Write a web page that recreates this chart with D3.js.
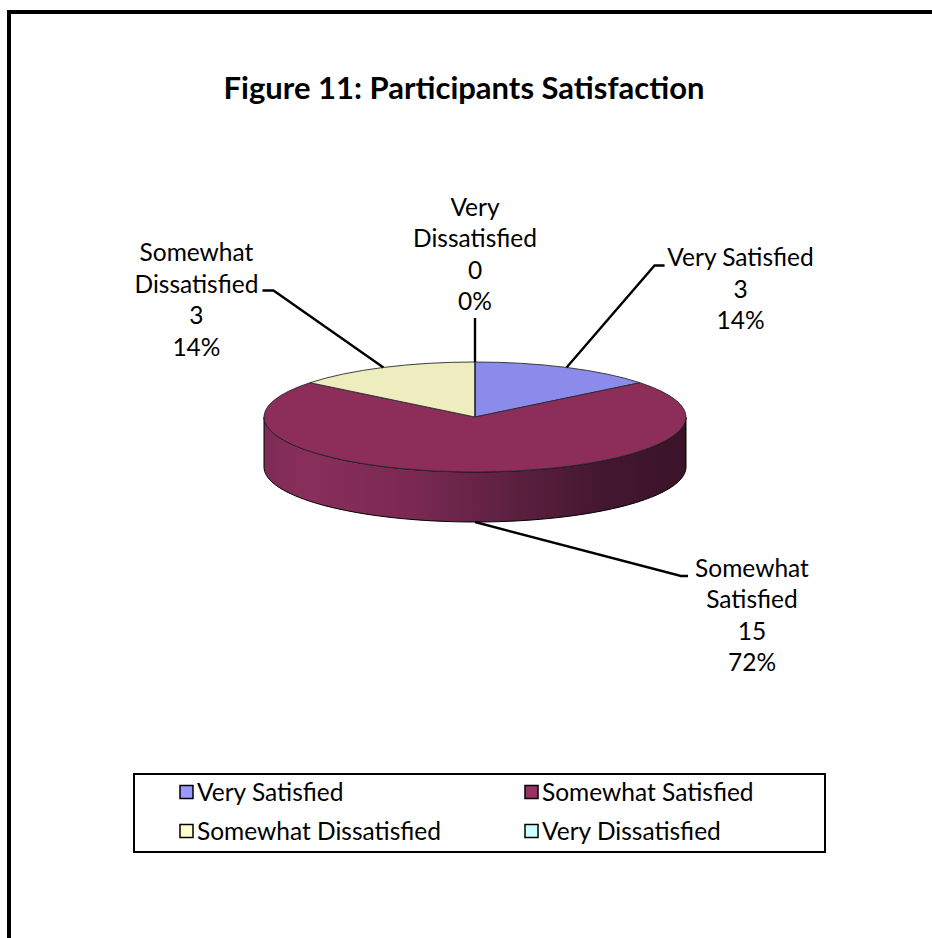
<!DOCTYPE html>
<html>
<head>
<meta charset="utf-8">
<script src="https://cdn.jsdelivr.net/npm/d3@7"></script>
<style>
  body { margin: 0; background: #fff; }
  text { font-family: Lato, "Open Sans", sans-serif; fill: #000; }
</style>
</head>
<body>
<svg id="chart" width="932" height="938"></svg>
<script>
// data
const categories = ["Very Satisfied", "Somewhat Satisfied", "Somewhat Dissatisfied", "Very Dissatisfied"];
const counts = [3, 15, 3, 0];
const percentLabels = ["14%", "72%", "14%", "0%"];
const labelNameLines = [["Very Satisfied"], ["Somewhat", "Satisfied"], ["Somewhat", "Dissatisfied"], ["Very", "Dissatisfied"]];
const topColors = ["#8B8BEB", "#8C2D5A", "#EDEDBF", "#CCFFFF"];
const legendColors = ["#9999FF", "#993366", "#FFFFCC", "#CCFFFF"];

const width = 932, height = 938;
const cx = 475, cy = 417, rx = 211, ry = 55, depth = 50;
const lineH = 31.4;

// leader/label placement relative to the slice anchor
const labelLayout = [
  { elbow: [88, -102], hLen: 10, tx: 174, ty: -101 },
  { elbow: [206, 54], hLen: 7, tx: 277, ty: 55 },
  { elbow: [-110, -77], hLen: -11, tx: -187, ty: -106 },
  { elbow: [0, -44], hLen: 0, tx: 0, ty: -146 }
];

const svg = d3.select("#chart");

// outer frame (runs off right and bottom edges)
svg.append("rect")
  .attr("x", 9).attr("y", 12)
  .attr("width", 1000).attr("height", 1000)
  .attr("fill", "none").attr("stroke", "#000").attr("stroke-width", 4);

svg.append("text")
  .attr("x", 464).attr("y", 99)
  .attr("text-anchor", "middle")
  .style("font-size", "31px").style("font-weight", "bold")
  .text("Figure 11: Participants Satisfaction");

const defs = svg.append("defs");
const grad = defs.append("linearGradient")
  .attr("id", "sideGrad")
  .attr("gradientUnits", "userSpaceOnUse")
  .attr("x1", cx - rx).attr("x2", cx + rx).attr("y1", 0).attr("y2", 0);
[[0, "#7E2B55"], [0.1, "#892E5B"], [0.35, "#7A2952"], [0.6, "#5B203F"], [0.8, "#441731"], [1, "#3A1329"]]
  .forEach(([o, c]) => grad.append("stop").attr("offset", o).attr("stop-color", c));

const pie = d3.pie().sort(null).value(d => d);
const arcs = pie(counts);

const ep = (a, dy = 0) => [cx + rx * Math.sin(a), cy - ry * Math.cos(a) + dy];

// side wall, only the front half shows
const sideG = svg.append("g");
arcs.forEach((d, i) => {
  const a0 = Math.max(d.startAngle, Math.PI / 2);
  const a1 = Math.min(d.endAngle, Math.PI * 3 / 2);
  if (a1 <= a0) return;
  const n = 80;
  const p = d3.path();
  const s = ep(a0);
  p.moveTo(s[0], s[1]);
  for (let k = 1; k <= n; k++) {
    const q = ep(a0 + (a1 - a0) * k / n);
    p.lineTo(q[0], q[1]);
  }
  for (let k = n; k >= 0; k--) {
    const q = ep(a0 + (a1 - a0) * k / n, depth);
    p.lineTo(q[0], q[1]);
  }
  p.closePath();
  sideG.append("path")
    .attr("d", p.toString())
    .attr("fill", i === 1 ? "url(#sideGrad)" : d3.color(topColors[i]).darker(1))
    .attr("stroke", "#000").attr("stroke-width", 1);
});

// top face: circle arcs squashed into an ellipse
const arc = d3.arc().innerRadius(0).outerRadius(rx);
svg.append("g")
  .attr("transform", `translate(${cx},${cy}) scale(1,${ry / rx})`)
  .selectAll("path")
  .data(arcs)
  .join("path")
  .attr("d", arc)
  .attr("fill", (d, i) => topColors[i])
  .attr("stroke", "#2a2a2a")
  .attr("stroke-width", 0.9)
  .attr("vector-effect", "non-scaling-stroke");

// leader lines and data labels
const labG = svg.append("g");
arcs.forEach((d, i) => {
  const mid = (d.startAngle + d.endAngle) / 2;
  const front = Math.cos(mid) < 0;
  const start = ep(mid, front ? depth : 0);
  const L = labelLayout[i];
  const elbow = [start[0] + L.elbow[0], start[1] + L.elbow[1]];
  const pts = [start, elbow];
  if (L.hLen) pts.push([elbow[0] + L.hLen, elbow[1]]);
  labG.append("path")
    .attr("d", d3.line()(pts))
    .attr("fill", "none").attr("stroke", "#000").attr("stroke-width", 2.4);

  const lines = labelNameLines[i].concat([String(counts[i]), percentLabels[i]]);
  const t = labG.append("text")
    .attr("text-anchor", "middle")
    .style("font-size", "24.5px");
  lines.forEach((ln, k) => {
    t.append("tspan")
      .attr("x", start[0] + L.tx)
      .attr("y", start[1] + L.ty + k * lineH)
      .text(ln);
  });
});

// legend
const legend = svg.append("g");
legend.append("rect")
  .attr("x", 134).attr("y", 774).attr("width", 691).attr("height", 78)
  .attr("fill", "#fff").attr("stroke", "#000").attr("stroke-width", 2);
const colX = [180, 525], rowY = [792, 831];
categories.forEach((c, i) => {
  const x = colX[i % 2], y = rowY[Math.floor(i / 2)];
  legend.append("rect")
    .attr("x", x).attr("y", y - 6.5).attr("width", 13).attr("height", 13)
    .attr("fill", legendColors[i]).attr("stroke", "#000").attr("stroke-width", 1.5);
  legend.append("text")
    .attr("x", x + 17).attr("y", y + 8.5)
    .style("font-size", "24.5px")
    .text(c);
});
</script>
</body>
</html>
